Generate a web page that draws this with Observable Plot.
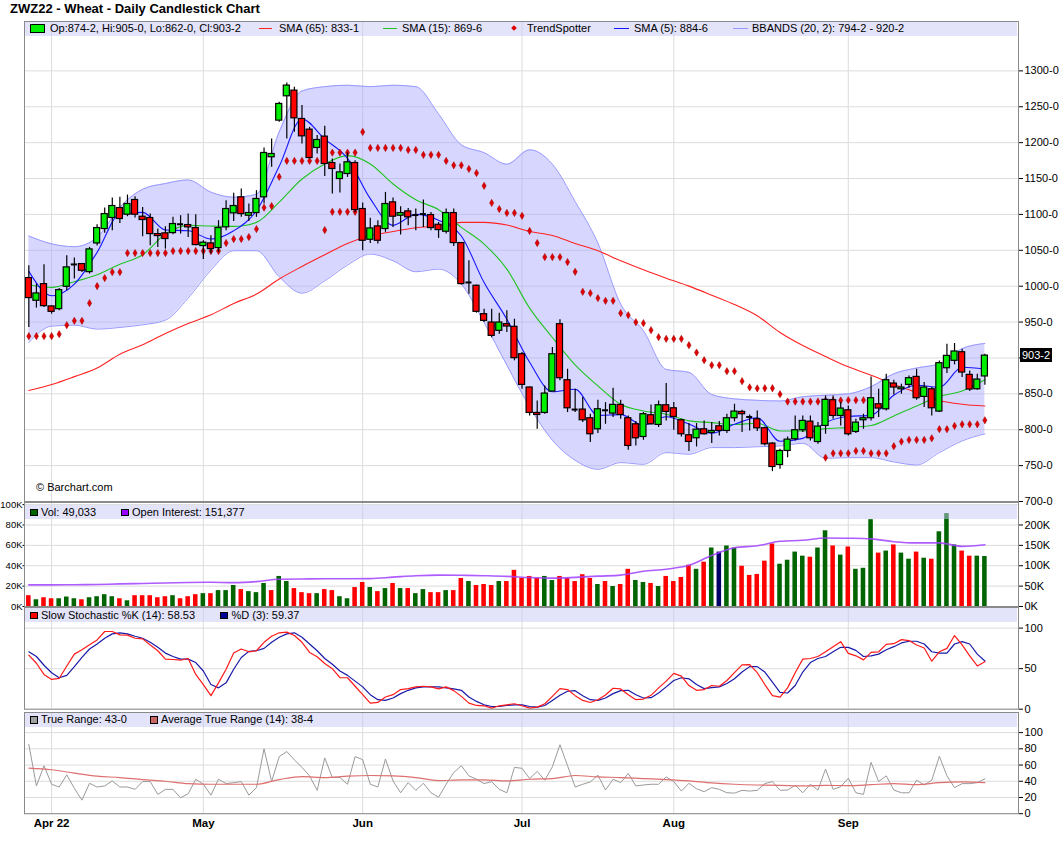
<!DOCTYPE html>
<html><head><meta charset="utf-8">
<script src="https://cdn.jsdelivr.net/npm/d3@7"></script>
<script src="https://cdn.jsdelivr.net/npm/@observablehq/plot@0.6"></script>
<style>
body{margin:0;background:#fff;font-family:"Liberation Sans",Arial,sans-serif;}
#chart{position:relative;width:1060px;height:851px;overflow:hidden;background:#fff;}
#chart svg{position:absolute;left:0;overflow:visible;}
.ov{position:absolute;white-space:nowrap;font-size:11px;line-height:13px;color:#000;}
.band{position:absolute;left:25px;width:992px;background:rgba(200,200,245,0.5);}
.sw{position:absolute;}
</style></head>
<body><div id="chart"></div>
<script>
// ---------- DATA ----------
const monthIdx = [3, 23, 44, 65, 85, 108];
const monthLbl = ["Apr 22", "May", "Jun", "Jul", "Aug", "Sep"];
const priceTicks = [700,750,800,850,900,950,1000,1050,1100,1150,1200,1250,1300];

const open = [1011.3,979.7,1002.9,971.8,968.0,999.2,1030.3,1030.8,1019.6,1059.6,
1079.6,1095.0,1108.9,1099.6,1120.1,1096.8,1095.0,1072.6,1073.6,1074.0,
1086.3,1085.2,1081.0,1055.9,1059.6,1053.1,1082.0,1101.5,1123.8,1098.2,
1101.9,1123.8,1179.6,1230.7,1264.6,1272.5,1233.0,1218.1,1192.6,1208.4,
1171.6,1149.3,1156.3,1171.6,1107.5,1064.7,1083.3,1079.6,1116.8,1098.2,
1104.2,1099.1,1100.5,1099.1,1085.6,1075.9,1101.9,1060.1,1005.2,1000.6,
961.0,949.4,937.8,947.1,943.4,905.2,858.8,823.4,823.4,853.2,
947.1,869.0,828.1,828.1,816.0,800.6,827.1,822.5,834.6,816.0,
807.6,789.9,820.2,806.7,834.1,829.9,813.2,792.3,788.1,800.6,
795.6,804.8,798.3,816.0,824.8,817.8,814.6,802.1,780.7,750.9,
770.4,786.7,799.3,811.3,782.9,805.3,841.1,819.2,827.1,796.9,
813.2,816.0,835.5,828.5,864.3,856.4,862.5,873.6,845.7,856.4,
825.3,885.7,896.0,908.0,876.4,856.4,874.25];
const high = [1028.5,1002.9,1029.9,972.7,996.9,1042.4,1039.2,1030.8,1054.1,1085.7,
1108.9,1122.9,1123.8,1127.0,1124.7,1109.8,1100.5,1079.6,1082.9,1095.9,
1098.2,1100.5,1099.6,1063.4,1070.3,1091.3,1119.1,1129.4,1135.4,1114.5,
1133.1,1192.6,1205.2,1256.3,1283.2,1277.2,1251.6,1221.4,1209.8,1222.8,
1177.2,1170.2,1185.6,1174.9,1115.9,1094.5,1091.2,1130.7,1122.8,1110.7,
1108.4,1107.5,1120.0,1102.8,1088.9,1107.5,1107.5,1061.0,1035.4,1001.5,
968.0,968.0,962.4,965.7,954.0,907.6,859.7,840.2,861.1,914.5,
953.1,884.3,856.4,844.8,821.6,841.1,837.8,857.8,841.1,819.2,
811.3,823.9,834.6,840.2,864.3,837.8,814.6,808.6,808.6,812.3,
809.9,811.3,821.6,835.5,827.1,820.6,826.2,803.9,782.0,772.8,
790.0,819.2,819.2,819.2,810.0,847.1,847.1,837.8,833.2,814.6,
821.6,873.6,856.4,877.4,869.0,863.4,875.0,884.3,865.7,858.8,
895.9,919.2,920.1,912.2,882.0,877.4,905.0];
const low = [942.5,969.5,970.4,961.1,965.7,993.6,1009.9,1019.2,1016.9,1055.9,
1073.6,1077.3,1087.5,1096.8,1095.0,1068.9,1056.4,1054.0,1051.7,1071.7,
1072.6,1068.0,1056.4,1037.3,1044.8,1047.1,1077.3,1090.3,1096.0,1090.3,
1095.9,1114.5,1165.6,1228.4,1205.1,1214.4,1198.1,1177.2,1184.2,1153.0,
1128.4,1129.8,1151.6,1102.8,1049.4,1059.6,1058.7,1075.0,1081.9,1071.2,
1084.2,1077.3,1081.9,1077.3,1066.6,1072.6,1055.4,1001.5,988.9,962.4,
949.4,928.0,933.1,935.4,896.0,856.4,819.2,800.6,821.6,853.2,
868.1,823.9,823.9,809.9,782.1,794.6,807.6,816.9,814.6,771.3,
777.4,785.3,806.7,803.0,812.3,799.3,790.0,769.5,776.0,792.7,
780.7,791.3,794.6,810.9,796.0,798.3,797.4,777.4,741.6,744.9,
761.1,784.4,796.0,784.4,779.8,793.7,814.6,805.3,791.4,794.6,
800.6,812.3,816.9,826.2,848.5,849.5,857.8,841.1,830.9,819.2,
823.9,878.3,890.4,872.7,853.2,855.0,862.0];
const close = [983.4,989.9,972.2,964.3,994.5,1026.2,1030.3,1021.5,1051.3,1081.0,
1100.5,1111.7,1093.6,1114.5,1099.6,1092.2,1072.6,1069.8,1065.7,1086.6,
1086.3,1082.0,1057.3,1060.6,1051.7,1081.0,1107.5,1111.7,1100.5,1101.9,
1121.5,1185.6,1184.2,1253.9,1279.5,1233.9,1208.8,1178.6,1203.7,1170.3,
1163.3,1158.6,1172.6,1106.1,1063.3,1080.5,1063.3,1114.5,1096.8,1101.9,
1095.9,1099.1,1100.5,1081.0,1078.2,1101.9,1060.1,1002.9,1005.2,964.3,
951.7,930.8,949.4,943.8,899.7,862.5,823.4,820.6,850.4,905.2,
871.8,829.9,828.1,813.2,793.7,828.5,827.1,834.6,820.6,777.4,
788.1,821.6,807.6,834.1,824.8,817.8,793.7,783.0,800.1,793.7,
798.3,798.3,816.0,825.3,821.6,817.8,802.0,779.8,748.1,770.4,
786.2,799.3,812.3,788.1,804.4,841.6,819.2,829.5,793.7,809.9,
816.0,843.9,829.5,869.0,858.8,858.8,871.8,843.9,858.8,829.9,
892.7,902.9,909.0,879.7,856.0,869.9,903.25];

const trendSpotter = [930.4,930.4,930.4,930.4,933.2,945.7,951.8,951.8,976.4,1000.1,
1011.3,1019.6,1019.6,1046.2,1046.2,1046.2,1046.2,1046.2,1046.2,1049.0,
1049.0,1049.0,1049.0,1049.0,1049.0,1049.0,1060.1,1065.7,1065.7,1068.5,
1079.6,1109.4,1111.7,1152.4,1174.6,1174.6,1174.6,1174.6,1174.6,1078.2,
1103.6,1103.6,1103.6,1103.6,1214.9,1192.6,1192.6,1192.6,1192.6,1192.6,
1189.8,1189.8,1183.0,1183.0,1183.0,1174.5,1168.4,1168.4,1163.3,1157.7,
1139.8,1116.0,1107.5,1102.0,1102.0,1098.0,1077.0,1060.1,1040.5,1040.5,
1040.5,1033.6,1020.1,992.2,990.3,983.4,979.6,979.6,962.4,959.6,
949.9,948.5,938.7,929.0,926.6,926.6,926.6,917.8,907.6,896.9,
889.9,889.9,881.5,881.5,867.6,859.0,857.6,857.8,857.8,849.5,
839.2,839.2,839.2,839.2,839.2,761.1,767.2,767.2,767.2,770.4,
770.4,767.2,767.2,767.2,777.0,783.5,785.8,785.8,785.8,788.1,
800.7,800.7,805.3,807.6,807.6,807.6,813.2];
const trendExtraIdx = [40,41,42,43,105,106,107,108,109,110];
const trendExtra = [1186.1,1186.1,1186.1,1186.1,840.5,840.5,840.8,841.1,841.1,841.1];

// indicator lines, read every third session
const lineIdx = [0,3,6,9,12,15,18,21,24,27,30,33,36,39,42,45,48,51,54,57,60,63,66,69,72,75,78,81,84,87,90,93,96,99,102,105,108,111,114,117,120,123,126];
const sma5 = [1020.6,986.6,1002.9,1047.1,1100.5,1102.9,1078.2,1077.3,1065.7,1077.3,1105.2,1167,1233,1205,1178,1122,1085,1100,1092,1070,1005,954,894,853,856.5,820,821,806,818,808,795,807.5,816.7,784,788,810,818.5,820,848,862,859,887,884.6];
const sma15 = [1002.0,998.3,1006.2,1015.9,1030.4,1043.8,1072.6,1084.7,1083.8,1083.3,1088.9,1117,1149.3,1170.3,1181.9,1170.3,1142.4,1120.5,1106.6,1081.9,1058.7,1023.8,969.4,928.5,890.4,861.1,835.5,826.2,821.6,812.3,809.9,807.2,809,798.3,798.3,801.6,803.0,805.8,819.2,833.2,846.2,854.1,869.6];
const sma65 = [854.6,863,874,886,905.3,918.3,934.1,948.1,960.1,976.0,989.0,1010,1027.5,1043.8,1059.6,1070.3,1076.3,1081.5,1084.2,1088.9,1088.9,1085.2,1076.3,1070.7,1059.6,1049.4,1035.4,1022.9,1011.2,1000.1,987.5,974.5,958.7,935.5,917.3,902.0,887.6,876.0,863.4,851.8,840.6,835.5,833.1];
const bbUpper = [1070,1059,1055,1068,1110,1135,1143,1148,1131,1124,1128,1215,1272,1278,1280,1278,1280,1278,1240,1197,1186,1170,1190,1170,1118,1060,975,938,884,880,849,843,841,840,846,848,850,860,878,886,892,913,920.2];
const bbLower = [921.6,944.3,945.7,940.2,942.5,946.2,952.7,983.4,1022.4,1049.4,1049.4,1013,990.3,1007.5,1029.4,1044.7,1035.4,1020.1,1023.8,1003,949.4,890,832,785.3,757.4,744.9,754.2,751.8,768.1,765.8,775.1,775.1,776.3,777.4,781.1,760.2,761.1,761.1,755.1,750.9,768.1,784.4,794.2];
const openInterest = [53000,53000,53500,54000,55500,56500,57500,59000,59500,58500,61000,67000,67500,68000,68000,68500,72000,75500,77000,76500,75500,74000,71000,69500,71500,74500,77000,86500,91500,101000,125000,144000,149000,160000,162500,168000,167500,166000,159000,156000,156000,147500,151377];
const atr = [56.3,54.2,50.0,46.3,44.6,42.1,40.0,37.1,36.3,36.3,36.3,42.1,45.8,44.6,46.3,47.1,46.7,44.6,40.8,41.7,41.7,40.4,42.5,43.3,47.1,45.4,44.6,43.3,42.1,40.4,37.9,36.3,35.4,35.0,34.2,35.0,34.6,35.8,37.1,35.8,38.3,39.2,38.4];

const volume = [10600,6600,8600,7600,7600,9300,7600,6600,8600,9600,
11600,9600,7600,5600,10600,10600,10600,8600,9600,10600,
7600,9600,11600,12600,12600,15600,15600,20600,16600,14600,
13600,22600,15600,29500,24500,17600,13600,12600,12600,16600,
15600,9600,7600,18600,23600,18600,14600,17600,22600,17600,
17600,12600,16600,13600,13600,15600,15600,27500,24500,20600,
21600,20600,24500,24500,35500,27500,29500,27500,29500,25500,
29500,27500,24500,31200,27500,21600,24500,19600,21600,36500,
25500,23600,22600,19600,29500,24500,28500,40500,36500,43500,
57400,53400,59400,57400,39500,30500,31500,44500,61400,41500,
45400,53400,49400,48400,57400,74300,59400,50400,58400,36500,
37500,85200,52400,54400,60400,52400,46400,53400,47400,46400,
73300,91200,60400,54400,49400,49400,49033];
// 1 = up day, 0 = down day, 2 = highlighted bar
const volUp = [0,1,0,0,1,1,1,0,1,1, 1,1,0,1,0,0,0,0,0,1, 0,0,0,1,0,1,1,1,0,1,
1,1,0,1,1,0,0,0,1,0, 0,1,1,0,0,1,0,1,0,1, 0,1,1,0,0,1,0,0,1,0,
0,0,1,0,0,0,0,0,1,1, 0,0,0,0,0,1,0,1,0,0, 1,1,0,1,0,0,0,0,1,0,
1,2,1,1,0,0,0,0,0,1, 1,1,1,0,1,1,0,1,0,1, 1,1,0,1,0,1,1,0,1,0, 1,1,1,0,0,1,1];

const pctK = [66.7,56.7,42.9,36.7,37.9,53.3,67.9,73.3,79.6,85.4,
95.8,95.8,91.7,91.3,87.5,86.7,79.2,72.1,61.7,61.3,
60.4,62.5,42.9,30.4,16.7,32.5,49.2,69.2,74.2,70.8,
72.1,82.5,90.0,94.2,95.0,90.8,82.5,70.0,64.6,56.3,
50.0,38.8,38.8,28.3,17.9,7.5,8.3,15.0,17.9,24.2,
25.4,27.5,28.3,27.5,25.0,27.5,22.9,15.8,7.5,4.6,
4.2,1.3,4.2,5.4,6.7,4.2,1.3,2.5,6.7,15.8,
25.4,24.2,16.7,10.8,8.3,11.7,17.5,25.8,25.0,17.9,
11.7,12.5,17.1,26.3,34.6,44.2,40.8,29.2,23.3,24.2,
29.2,28.3,35.4,45.0,54.6,55.0,45.0,30.4,16.7,15.0,
26.3,45.0,61.7,62.5,65.0,70.8,77.1,83.3,68.8,65.8,
60.8,70.0,70.8,80.0,80.8,85.8,84.6,79.2,75.4,59.2,
70.8,75.0,90.8,79.2,65.8,53.3,58.53];
const pctD = [70.8,65.0,54.2,45.0,38.8,41.7,52.5,63.8,74.2,80.4,
87.5,92.9,94.2,92.9,90.0,87.5,82.5,76.3,69.2,65.0,
61.7,61.7,57.5,47.1,30.4,26.3,32.5,49.2,63.8,71.3,
72.1,75.0,82.5,88.8,92.9,94.2,88.8,80.4,72.1,62.5,
55.4,47.1,41.7,34.6,27.5,17.9,11.7,10.8,13.8,19.2,
23.3,26.3,27.5,27.5,27.5,26.3,25.0,23.3,15.0,9.6,
5.4,3.3,3.3,4.6,5.4,5.4,3.3,2.5,4.6,10.8,
17.1,22.1,22.9,16.7,11.7,10.8,13.8,19.2,22.9,23.3,
17.9,13.8,14.2,20.0,27.5,35.4,38.8,37.5,30.4,25.4,
26.7,27.5,31.7,37.5,45.8,52.5,52.5,45.8,33.3,20.8,
20.0,29.2,45.8,57.5,62.5,65.0,70.8,76.3,76.3,72.5,
65.0,65.8,67.9,73.3,77.1,81.7,83.8,83.8,80.4,70.8,
69.2,69.2,80.4,83.3,80.4,67.9,59.37];
const trueRange = [85.4,34.2,59.2,36.3,32.9,47.9,31.3,16.7,37.5,32.9,
34.2,40.4,32.9,32.9,30.0,39.6,39.6,23.8,30.0,30.0,
19.6,24.6,42.5,36.3,22.9,42.5,37.1,38.3,39.6,22.9,
32.1,80.0,39.6,70.4,76.7,66.3,57.1,46.7,28.8,68.8,
44.6,44.6,36.3,70.4,66.7,36.3,32.9,67.5,40.4,25.8,
38.3,28.8,37.5,25.8,20.4,36.3,50.8,59.2,46.7,42.5,
37.1,39.6,30.0,25.8,57.1,56.0,43.3,52.1,41.3,57.9,
85.0,59.2,32.9,36.3,39.2,47.5,29.2,42.5,38.3,49.6,
34.2,35.4,36.3,36.3,45.4,39.6,27.9,37.5,30.8,27.1,
32.1,30.0,25.8,25.4,28.8,27.9,28.8,37.1,39.6,28.8,
29.2,35.0,25.8,36.3,29.2,55.0,30.0,33.3,43.8,25.8,
23.8,63.3,39.6,46.7,29.2,25.8,25.8,41.3,35.4,41.3,
70.8,46.7,32.1,37.1,37.1,38.3,43.0];

// ---------- TABLES ----------
const candles = open.map((o, i) => ({i, o, h: high[i], l: low[i], c: close[i]}));
const bodies = candles.filter(d => d.o !== d.c);
const dojis = candles.filter(d => d.o === d.c);
const lines = lineIdx.map((i, k) => ({i, sma5: sma5[k], sma15: sma15[k], sma65: sma65[k],
  bbu: bbUpper[k], bbl: bbLower[k], oi: openInterest[k], atr: atr[k]}));
const trend = trendSpotter.map((v, i) => ({i, v})).concat(trendExtraIdx.map((i, k) => ({i, v: trendExtra[k]})));
const vols = volume.map((v, i) => ({i, v, u: volUp[i]}));
const osc = pctK.map((k, i) => ({i, k, d: pctD[i], tr: trueRange[i]}));
const lastClose = close[close.length - 1];

// ---------- LAYOUT ----------
const W = 1060, ML = 24, MR = 42;
const XD = [-0.57, 130.43];
const FONT = "Liberation Sans, Arial, sans-serif";
const base = {width: W, marginLeft: ML, marginRight: MR,
  style: {fontFamily: FONT, fontSize: "11px", color: "#000", background: "transparent"}};
const GRID = "#dcdcdc", FRAME = "#8a8a8a";
const curve = "monotone-x";
const chart = document.getElementById("chart");

const pricePlot = Plot.plot({...base, height: 505, marginTop: 21, marginBottom: 4,
  x: {domain: XD, axis: null},
  y: {domain: [700, 1368.8], axis: null},
  marks: [
    Plot.ruleY(priceTicks, {stroke: GRID}),
    Plot.ruleX(monthIdx, {stroke: GRID}),
    Plot.areaY(lines, {x: "i", y1: "bbl", y2: "bbu", fill: "#a4a4ff", fillOpacity: 0.45, curve}),
    Plot.lineY(lines, {x: "i", y: "bbu", stroke: "#9898ff", strokeWidth: 1, curve}),
    Plot.lineY(lines, {x: "i", y: "bbl", stroke: "#9898ff", strokeWidth: 1, curve}),
    Plot.lineY(lines, {x: "i", y: "sma65", stroke: "#ff2222", strokeWidth: 1.1, curve}),
    Plot.lineY(lines, {x: "i", y: "sma15", stroke: "#22c422", strokeWidth: 1.1, curve}),
    Plot.lineY(lines, {x: "i", y: "sma5", stroke: "#1515ff", strokeWidth: 1.1, curve}),
    Plot.dot(trend, {x: "i", y: "v", symbol: "diamond", r: 2.2, fill: "#e00000", stroke: "#a00000", strokeWidth: 0.5}),
    Plot.ruleX(candles, {x: "i", y1: "l", y2: "h", stroke: "#000", strokeWidth: 1.2}),
    Plot.rect(bodies, {x1: d => d.i - 0.4, x2: d => d.i + 0.4, y1: "o", y2: "c",
      fill: d => d.c > d.o ? "#00ee00" : "#ff0000", stroke: "#000", strokeWidth: 1.2}),
    Plot.ruleY(dojis, {y: "o", x1: d => d.i - 0.4, x2: d => d.i + 0.4, stroke: "#000", strokeWidth: 2}),
    Plot.axisY({anchor: "right", label: null, ticks: priceTicks,
      tickFormat: d => (Math.abs(d - lastClose) < 10 ? "" : d + "-0"), tickSize: 4, tickPadding: 2}),
    Plot.frame({stroke: FRAME})
  ]});
pricePlot.style.top = "0px";
chart.appendChild(pricePlot);

const volColor = ["#ff0000", "#006400", "#000066"];
const volPlot = Plot.plot({...base, height: 108, marginTop: 2, marginBottom: 2,
  x: {domain: XD, axis: null},
  y: {domain: [0, 102060], axis: null},
  marks: [
    Plot.ruleY([0, 20000, 40000, 60000, 80000, 100000], {stroke: GRID}),
    Plot.ruleX(monthIdx, {stroke: GRID}),
    Plot.rect(vols, {x1: d => d.i - 0.3, x2: d => d.i + 0.3, y1: 0, y2: "v", fill: d => volColor[d.u]}),
    Plot.lineY(lines, {x: "i", y: d => d.oi / 2.5, stroke: "#a040ff", strokeWidth: 1.6, strokeOpacity: 0.85, curve}),
    Plot.axisY({anchor: "left", label: null, ticks: [0, 20000, 40000, 60000, 80000, 100000],
      tickFormat: d => d / 1000 + "K", tickSize: 1.5, tickPadding: 0.5, fontSize: 9.5}),
    Plot.axisY({anchor: "right", label: null, ticks: [0, 20000, 40000, 60000, 80000],
      tickFormat: d => (d * 2.5) / 1000 + "K", tickSize: 4, tickPadding: 2}),
    Plot.frame({stroke: FRAME})
  ]});
volPlot.style.top = "500px";
chart.appendChild(volPlot);

const stochPlot = Plot.plot({...base, height: 104, marginTop: 1, marginBottom: 1.3,
  x: {domain: XD, axis: null},
  y: {domain: [0, 125.4], axis: null},
  marks: [
    Plot.ruleY([0, 50, 100], {stroke: GRID}),
    Plot.ruleX(monthIdx, {stroke: GRID}),
    Plot.lineY(osc, {x: "i", y: "d", stroke: "#1a1aa8", strokeWidth: 1.2}),
    Plot.lineY(osc, {x: "i", y: "k", stroke: "#ff1a1a", strokeWidth: 1.2}),
    Plot.axisY({anchor: "right", label: null, ticks: [0, 50, 100], tickSize: 4, tickPadding: 2}),
    Plot.frame({stroke: FRAME})
  ]});
stochPlot.style.top = "606px";
chart.appendChild(stochPlot);

const atrPlot = Plot.plot({...base, height: 122, marginTop: 2, marginBottom: 18.8,
  x: {domain: XD, axis: null},
  y: {domain: [0, 124.8], axis: null},
  marks: [
    Plot.ruleY([0, 20, 40, 60, 80, 100], {stroke: GRID}),
    Plot.ruleX(monthIdx, {stroke: GRID}),
    Plot.lineY(osc, {x: "i", y: "tr", stroke: "#9a9a9a", strokeWidth: 1}),
    Plot.lineY(lines, {x: "i", y: "atr", stroke: "#dd6f6f", strokeWidth: 1.2, curve}),
    Plot.axisY({anchor: "right", label: null, ticks: [0, 20, 40, 60, 80, 100], tickSize: 4, tickPadding: 2}),
    Plot.axisX({label: null, ticks: monthIdx, tickFormat: d => monthLbl[monthIdx.indexOf(d)],
      tickSize: 0, tickPadding: 5, fontWeight: "bold", fontSize: 11.5}),
    Plot.frame({stroke: FRAME})
  ]});
atrPlot.style.top = "710px";
chart.appendChild(atrPlot);

// ---------- TITLE, LEGENDS, ANNOTATIONS ----------
let html = "";
html += `<div class="ov" style="left:10px;top:1px;font-size:13px;line-height:15px;font-weight:bold">ZWZ22 - Wheat - Daily Candlestick Chart</div>`;
html += `<div class="band" style="top:22px;height:13.5px"></div>`;
html += `<div class="band" style="top:505px;height:14px"></div>`;
html += `<div class="band" style="top:608px;height:14px"></div>`;
html += `<div class="band" style="top:713px;height:13.5px"></div>`;
const box = (x, y, w, h, c) => `<div class="sw" style="left:${x}px;top:${y}px;width:${w}px;height:${h}px;background:${c};border:1px solid #000;box-sizing:border-box"></div>`;
const seg = (x, y, w, c) => `<div class="sw" style="left:${x}px;top:${y}px;width:${w}px;height:1.3px;background:${c}"></div>`;
const txt = (x, y, s) => `<div class="ov" style="left:${x}px;top:${y}px">${s}</div>`;
html += box(30, 24, 15, 9, "#00ee00") + txt(50, 22, "Op:874-2, Hi:905-0, Lo:862-0, Cl:903-2");
html += seg(259, 28, 13, "#ff2222") + txt(279, 22, "SMA (65): 833-1");
html += seg(383, 28, 14, "#22c422") + txt(402, 22, "SMA (15): 869-6");
html += `<div class="sw" style="left:511.5px;top:26.3px;width:4px;height:4px;background:#e00000;transform:rotate(45deg)"></div>` + txt(527, 22, "TrendSpotter");
html += seg(614, 28, 15, "#1515ff") + txt(634, 22, "SMA (5): 884-6");
html += seg(733, 28, 15, "#9898ff") + txt(752, 22, "BBANDS (20, 2): 794-2 - 920-2");
html += box(30, 508.5, 7.5, 7.5, "#006400") + txt(41, 505.5, "Vol: 49,033");
html += box(121, 508.5, 7.5, 7.5, "#9900ff") + txt(132, 505.5, "Open Interest: 151,377");
html += box(30, 611.5, 7.5, 7.5, "#ff0000") + txt(41, 608.5, "Slow Stochastic %K (14): 58.53");
html += box(220, 611.5, 7.5, 7.5, "#000099") + txt(231.5, 608.5, "%D (3): 59.37");
html += box(30, 716, 7.5, 7.5, "#a0a0a0") + txt(41, 713, "True Range: 43-0");
html += box(150, 716, 7.5, 7.5, "#cc6666") + txt(161, 713, "Average True Range (14): 38-4");
html += txt(36, 481, "© Barchart.com");
const yLast = pricePlot.scale("y").apply(lastClose);
html += `<div class="ov" style="left:1020px;top:${yLast - 7}px;height:14px;line-height:14px;padding:0 2px;background:#000;color:#fff">903-2</div>`;
chart.insertAdjacentHTML("beforeend", html);
</script>
</body></html>
